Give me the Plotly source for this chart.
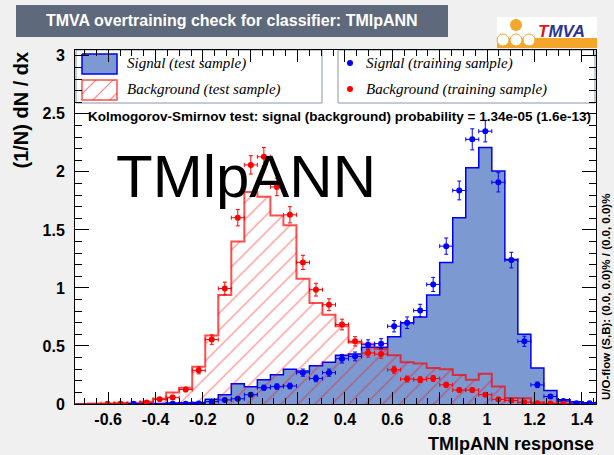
import plotly.graph_objects as go

# ---------------- data ----------------
bin_lo = -0.74
bin_w = 0.055
n_bins = 40

sig_test = [0, 0, 0, 0.003, 0.003, 0.003, 0.005, 0.008, 0.01, 0.012,
            0.04, 0.08, 0.175, 0.148, 0.21, 0.252, 0.30, 0.285, 0.33, 0.36,
            0.42, 0.43, 0.49, 0.49, 0.58, 0.70, 0.75, 0.94, 1.22, 1.605,
            2.036, 2.21, 2.007, 1.245, 0.60, 0.31, 0.116, 0.036, 0.02, 0.01]

bkg_test = [0, 0.005, 0.005, 0.01, 0.01, 0.02, 0.045, 0.10, 0.14, 0.32,
            0.59, 0.94, 1.40, 1.826, 1.785, 1.625, 1.54, 1.08, 0.87, 0.77,
            0.67, 0.53, 0.52, 0.475, 0.42, 0.36, 0.35, 0.31, 0.30, 0.25,
            0.21, 0.26, 0.15, 0.052, 0.05, 0.012, 0.005, 0, 0, 0]

sig_train = [None, None, None, None, 0.003, None, None, 0.002, 0.002, 0.004,
             0.02, 0.035, 0.045, 0.08, 0.14, 0.15, 0.155, 0.27, 0.22, 0.27,
             0.39, 0.41, 0.51, 0.52, 0.67, 0.70, 0.805, 1.03, 1.36, 1.84,
             2.28, 2.35, 1.91, 1.24, 0.54, 0.165, 0.065, 0.025, 0.007, 0.007]
sig_train_err = [0, 0, 0, 0, 0.003, 0, 0, 0.002, 0.002, 0.004,
                 0.008, 0.011, 0.013, 0.017, 0.022, 0.023, 0.024, 0.031, 0.028, 0.031,
                 0.037, 0.038, 0.043, 0.043, 0.049, 0.050, 0.054, 0.061, 0.070, 0.081,
                 0.091, 0.092, 0.083, 0.067, 0.044, 0.024, 0.015, 0.009, 0.005, 0.005]

bkg_train = [None, None, 0.003, 0.003, None, 0.013, 0.04, 0.055, 0.125, 0.29,
             0.555, 0.995, 1.605, 2.06, 2.13, 1.87, 1.63, 1.22, 0.985, 0.855,
             0.685, 0.54, 0.44, 0.43, 0.295, 0.215, 0.21, 0.22, 0.165, 0.12,
             0.12, 0.08, 0.04, 0.03, 0.015, 0.007, 0.004, 0.003, None, None]
bkg_train_err = [0, 0, 0.003, 0.003, 0, 0.006, 0.011, 0.013, 0.019, 0.030,
                 0.041, 0.055, 0.070, 0.079, 0.080, 0.075, 0.070, 0.061, 0.055, 0.051,
                 0.046, 0.040, 0.036, 0.036, 0.030, 0.026, 0.025, 0.026, 0.022, 0.019,
                 0.019, 0.016, 0.011, 0.010, 0.007, 0.005, 0.003, 0.003, 0, 0]

x_tick_vals = [-0.6, -0.4, -0.2, 0, 0.2, 0.4, 0.6, 0.8, 1.0, 1.2, 1.4]
x_tick_text = ["-0.6", "-0.4", "-0.2", "0", "0.2", "0.4", "0.6", "0.8", "1", "1.2", "1.4"]
y_tick_vals = [0, 0.5, 1, 1.5, 2, 2.5, 3]
y_tick_text = ["0", "0.5", "1", "1.5", "2", "2.5", "3"]

classifier = "TMlpANN"
ks_sig, ks_bkg = "1.34e-05", "1.6e-13"

# ---------------- geometry ----------------
W, H = 614, 455
PL, PR, PT, PB = 75, 596, 50, 404


def fx(px):
    return (px - PL) / (PR - PL)


def fy(py):
    return (PB - py) / (PB - PT)


edges = [bin_lo + i * bin_w for i in range(n_bins + 1)]
centers = [bin_lo + (i + 0.5) * bin_w for i in range(n_bins)]


def step(vals):
    xs = [edges[0]] + edges + [edges[-1]]
    ys = [0] + list(vals) + [vals[-1], 0]
    return xs, ys


SIG_FILL = "#7d99d1"
SIG_LINE = "#0000ee"
BKG = "#ff0000"
BKG_LINE = "rgba(255,0,0,0.7)"
FONT = "Liberation Sans"
SERIF = "Liberation Serif"
HATCH = dict(shape="/", fgcolor=BKG, bgcolor="rgba(0,0,0,0)", size=12, solidity=0.1)

fig = go.Figure()

sx, sy = step(sig_test)
fig.add_trace(go.Scatter(x=sx, y=sy, mode="lines", line=dict(color=SIG_LINE, width=1.5, shape="hv"),
                         fill="tozeroy", fillcolor=SIG_FILL, hoverinfo="skip"))
bx, by = step(bkg_test)
fig.add_trace(go.Scatter(x=bx, y=by, mode="lines", line=dict(color=BKG_LINE, width=2, shape="hv"),
                         fill="tozeroy", fillcolor="rgba(0,0,0,0)", fillpattern=HATCH,
                         hoverinfo="skip"))

for vals, errs, col in [(sig_train, sig_train_err, "#0000ff"), (bkg_train, bkg_train_err, BKG)]:
    fig.add_trace(go.Scatter(
        x=centers, y=vals, mode="markers",
        marker=dict(color=col, size=6),
        error_y=dict(type="data", array=errs, color=col, thickness=1, width=2),
        error_x=dict(type="constant", value=bin_w / 2, color=col, thickness=1, width=2),
        hoverinfo="skip"))

# legend swatches on a pixel overlay axis
fig.add_trace(go.Scatter(x=[82, 117, 117, 82, 82], y=[54, 54, 74, 74, 54], mode="lines",
                         line=dict(color=SIG_LINE, width=1.5), fill="toself", fillcolor=SIG_FILL,
                         xaxis="x2", yaxis="y2", hoverinfo="skip"))
fig.add_trace(go.Scatter(x=[82, 117, 117, 82, 82], y=[80, 80, 100, 100, 80], mode="lines",
                         line=dict(color=BKG_LINE, width=1.5), fill="toself", fillcolor="rgba(0,0,0,0)",
                         fillpattern=HATCH, xaxis="x2", yaxis="y2", hoverinfo="skip"))
fig.add_trace(go.Scatter(x=[350, 350], y=[63, 89], mode="markers",
                         marker=dict(color=["#0000ff", BKG], size=6),
                         xaxis="x2", yaxis="y2", hoverinfo="skip"))

shapes = []
# legend boxes
for x0, x1 in [(76, 322), (338, 595)]:
    shapes.append(dict(type="rect", xref="paper", yref="paper", x0=fx(x0), x1=fx(x1),
                       y0=fy(103), y1=fy(50), fillcolor="white",
                       line=dict(color="#8796a8", width=1), layer="below"))
# title box
shapes.append(dict(type="rect", xref="paper", yref="paper", x0=fx(16), x1=fx(448),
                   y0=fy(37), y1=fy(5), fillcolor="#5e6a7c", line=dict(width=0)))
# TMVA logo
shapes.append(dict(type="rect", xref="paper", yref="paper", x0=fx(497), x1=fx(597),
                   y0=fy(48), y1=fy(17), fillcolor="white", line=dict(width=0)))
shapes.append(dict(type="rect", xref="paper", yref="paper", x0=fx(497), x1=fx(597),
                   y0=fy(48), y1=fy(38), fillcolor="#f4a62a", line=dict(width=0)))
shapes.append(dict(type="circle", xref="paper", yref="paper", x0=fx(510), x1=fx(522),
                   y0=fy(31), y1=fy(19), fillcolor="#f4a62a", line=dict(width=0)))
for cx in [503, 516, 529]:
    shapes.append(dict(type="circle", xref="paper", yref="paper", x0=fx(cx - 6), x1=fx(cx + 6),
                       y0=fy(46), y1=fy(34), fillcolor="white",
                       line=dict(color="#f4a62a", width=1)))


def ann(text, px, py, size, xa="center", ya="middle", family=FONT, color="black", angle=0):
    return dict(text=text, x=fx(px), y=fy(py), xref="paper", yref="paper",
                xanchor=xa, yanchor=ya, textangle=angle, showarrow=False,
                font=dict(family=family, size=size, color=color))


annotations = [
    ann("<b>TMVA overtraining check for classifier: %s</b>" % classifier, 232, 21, 16, color="white"),
    ann("<b><i><span style='color:#e3161b'>T</span>MVA</i></b>", 561, 31, 17, color="#283593"),
    ann("<b>Kolmogorov-Smirnov test: signal (background) probability = %s (%s)</b>" % (ks_sig, ks_bkg),
        86, 117, 13.5, xa="left"),
    ann(classifier, 246, 176, 60),
    ann("<i>Signal (test sample)</i>", 125, 64, 15, xa="left", family=SERIF),
    ann("<i>Background (test sample)</i>", 125, 90, 15, xa="left", family=SERIF),
    ann("<i>Signal (training sample)</i>", 364, 63, 15, xa="left", family=SERIF),
    ann("<i>Background (training sample)</i>", 364, 89, 15, xa="left", family=SERIF),
    ann("<b>(1/N) dN / dx</b>", 20, 50, 20, ya="top", angle=-90),
    ann("<b>%s response</b>" % classifier, 596, 444, 18, xa="right"),
    ann("<b>U/O-flow (S,B): (0.0, 0.0)% / (0.0, 0.0)%</b>", 606, 402, 11.5, ya="bottom", angle=-90),
]

axis_common = dict(showline=True, linecolor="black", linewidth=1, mirror="ticks",
                   ticks="inside", tickcolor="black", tickwidth=1, showgrid=False, zeroline=False,
                   tickfont=dict(family=FONT, size=16, color="black", weight="bold"))

fig.update_layout(
    width=W, height=H, autosize=False,
    margin=dict(l=PL, r=W - PR, t=PT, b=H - PB, pad=0),
    paper_bgcolor="#f0f0f0", plot_bgcolor="white",
    showlegend=False,
    xaxis=dict(range=[edges[0], edges[-1]], tickmode="array", tickvals=x_tick_vals,
               ticktext=x_tick_text, ticklen=12, ticklabelstandoff=1,
               minor=dict(dtick=0.05, tick0=0, ticks="inside", ticklen=6, tickcolor="black",
                          tickwidth=1, showgrid=False),
               **axis_common),
    yaxis=dict(range=[0, 3.05], tickmode="array", tickvals=y_tick_vals, ticktext=y_tick_text,
               ticklen=14, ticklabelstandoff=6,
               minor=dict(dtick=0.1, tick0=0, ticks="inside", ticklen=7, tickcolor="black",
                          tickwidth=1, showgrid=False),
               **axis_common),
    xaxis2=dict(range=[PL, PR], overlaying="x", visible=False, fixedrange=True),
    yaxis2=dict(range=[PB, PT], overlaying="y", visible=False, fixedrange=True),
    shapes=shapes, annotations=annotations,
)

fig.write_html("out.html", config={"displayModeBar": False},
               post_script="document.body.style.margin='0px';document.body.style.padding='0px';")
